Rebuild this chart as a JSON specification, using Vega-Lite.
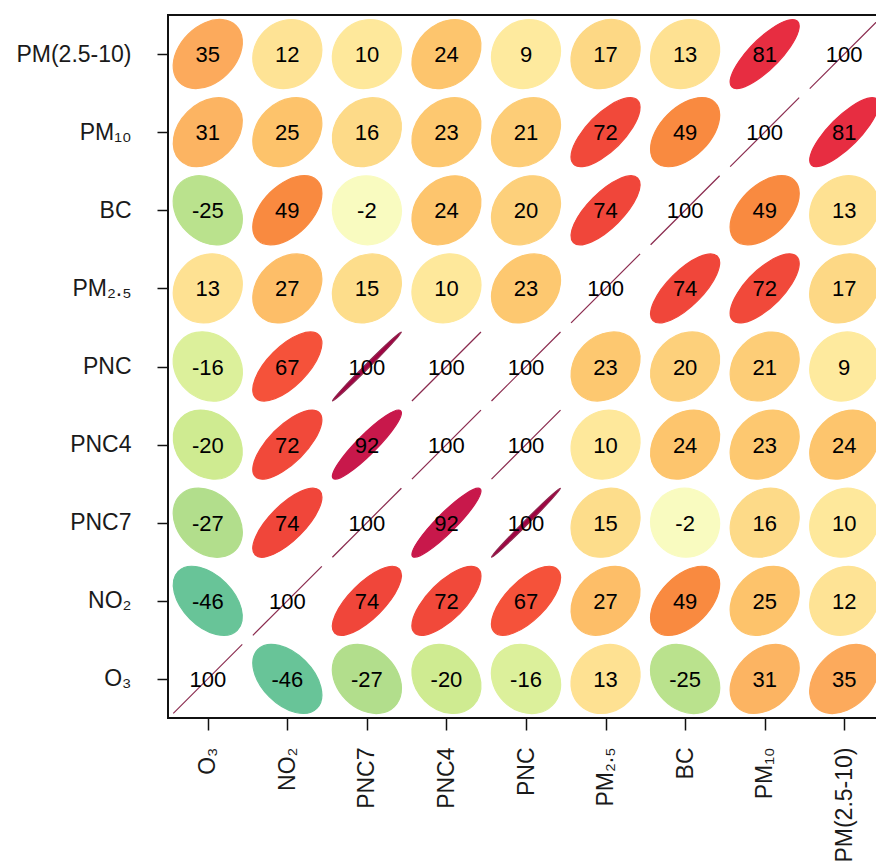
{
  "$schema": "https://vega.github.io/schema/vega-lite/v6.json",
  "autosize": {"type": "none"},
  "width": 716,
  "height": 703,
  "padding": {"left": 168, "top": 15, "right": -8, "bottom": 148},
  "background": "white",
  "config": {
    "view": {"stroke": "#111111", "strokeWidth": 2},
    "locale": {"number": {"decimal": ".", "thousands": ",", "grouping": [3], "currency": ["$", ""], "minus": "-"}},
    "axis": {"labelFont": "Liberation Sans", "labelFontSize": 23, "labelColor": "#1a1a1a", "tickColor": "#111111", "tickWidth": 1.5, "domain": false, "grid": false, "title": null}
  },
  "data": {"values": [
    {"row": "PM(2.5-10)", "col": "O₃", "r": 35}, {"row": "PM(2.5-10)", "col": "NO₂", "r": 12}, {"row": "PM(2.5-10)", "col": "PNC7", "r": 10}, {"row": "PM(2.5-10)", "col": "PNC4", "r": 24}, {"row": "PM(2.5-10)", "col": "PNC", "r": 9}, {"row": "PM(2.5-10)", "col": "PM₂.₅", "r": 17}, {"row": "PM(2.5-10)", "col": "BC", "r": 13}, {"row": "PM(2.5-10)", "col": "PM₁₀", "r": 81}, {"row": "PM(2.5-10)", "col": "PM(2.5-10)", "r": 100},
    {"row": "PM₁₀", "col": "O₃", "r": 31}, {"row": "PM₁₀", "col": "NO₂", "r": 25}, {"row": "PM₁₀", "col": "PNC7", "r": 16}, {"row": "PM₁₀", "col": "PNC4", "r": 23}, {"row": "PM₁₀", "col": "PNC", "r": 21}, {"row": "PM₁₀", "col": "PM₂.₅", "r": 72}, {"row": "PM₁₀", "col": "BC", "r": 49}, {"row": "PM₁₀", "col": "PM₁₀", "r": 100}, {"row": "PM₁₀", "col": "PM(2.5-10)", "r": 81},
    {"row": "BC", "col": "O₃", "r": -25}, {"row": "BC", "col": "NO₂", "r": 49}, {"row": "BC", "col": "PNC7", "r": -2}, {"row": "BC", "col": "PNC4", "r": 24}, {"row": "BC", "col": "PNC", "r": 20}, {"row": "BC", "col": "PM₂.₅", "r": 74}, {"row": "BC", "col": "BC", "r": 100}, {"row": "BC", "col": "PM₁₀", "r": 49}, {"row": "BC", "col": "PM(2.5-10)", "r": 13},
    {"row": "PM₂.₅", "col": "O₃", "r": 13}, {"row": "PM₂.₅", "col": "NO₂", "r": 27}, {"row": "PM₂.₅", "col": "PNC7", "r": 15}, {"row": "PM₂.₅", "col": "PNC4", "r": 10}, {"row": "PM₂.₅", "col": "PNC", "r": 23}, {"row": "PM₂.₅", "col": "PM₂.₅", "r": 100}, {"row": "PM₂.₅", "col": "BC", "r": 74}, {"row": "PM₂.₅", "col": "PM₁₀", "r": 72}, {"row": "PM₂.₅", "col": "PM(2.5-10)", "r": 17},
    {"row": "PNC", "col": "O₃", "r": -16}, {"row": "PNC", "col": "NO₂", "r": 67}, {"row": "PNC", "col": "PNC7", "r": 99.6}, {"row": "PNC", "col": "PNC4", "r": 100}, {"row": "PNC", "col": "PNC", "r": 100}, {"row": "PNC", "col": "PM₂.₅", "r": 23}, {"row": "PNC", "col": "BC", "r": 20}, {"row": "PNC", "col": "PM₁₀", "r": 21}, {"row": "PNC", "col": "PM(2.5-10)", "r": 9},
    {"row": "PNC4", "col": "O₃", "r": -20}, {"row": "PNC4", "col": "NO₂", "r": 72}, {"row": "PNC4", "col": "PNC7", "r": 92}, {"row": "PNC4", "col": "PNC4", "r": 100}, {"row": "PNC4", "col": "PNC", "r": 100}, {"row": "PNC4", "col": "PM₂.₅", "r": 10}, {"row": "PNC4", "col": "BC", "r": 24}, {"row": "PNC4", "col": "PM₁₀", "r": 23}, {"row": "PNC4", "col": "PM(2.5-10)", "r": 24},
    {"row": "PNC7", "col": "O₃", "r": -27}, {"row": "PNC7", "col": "NO₂", "r": 74}, {"row": "PNC7", "col": "PNC7", "r": 100}, {"row": "PNC7", "col": "PNC4", "r": 92}, {"row": "PNC7", "col": "PNC", "r": 99.6}, {"row": "PNC7", "col": "PM₂.₅", "r": 15}, {"row": "PNC7", "col": "BC", "r": -2}, {"row": "PNC7", "col": "PM₁₀", "r": 16}, {"row": "PNC7", "col": "PM(2.5-10)", "r": 10},
    {"row": "NO₂", "col": "O₃", "r": -46}, {"row": "NO₂", "col": "NO₂", "r": 100}, {"row": "NO₂", "col": "PNC7", "r": 74}, {"row": "NO₂", "col": "PNC4", "r": 72}, {"row": "NO₂", "col": "PNC", "r": 67}, {"row": "NO₂", "col": "PM₂.₅", "r": 27}, {"row": "NO₂", "col": "BC", "r": 49}, {"row": "NO₂", "col": "PM₁₀", "r": 25}, {"row": "NO₂", "col": "PM(2.5-10)", "r": 12},
    {"row": "O₃", "col": "O₃", "r": 100}, {"row": "O₃", "col": "NO₂", "r": -46}, {"row": "O₃", "col": "PNC7", "r": -27}, {"row": "O₃", "col": "PNC4", "r": -20}, {"row": "O₃", "col": "PNC", "r": -16}, {"row": "O₃", "col": "PM₂.₅", "r": 13}, {"row": "O₃", "col": "BC", "r": -25}, {"row": "O₃", "col": "PM₁₀", "r": 31}, {"row": "O₃", "col": "PM(2.5-10)", "r": 35}
  ]},
  "encoding": {
    "x": {"field": "col", "type": "nominal", "sort": ["O₃", "NO₂", "PNC7", "PNC4", "PNC", "PM₂.₅", "BC", "PM₁₀", "PM(2.5-10)"], "scale": {"paddingInner": 0, "paddingOuter": 0}, "axis": {"labelAngle": -90, "tickSize": 12, "labelPadding": 17}},
    "y": {"field": "row", "type": "nominal", "sort": ["PM(2.5-10)", "PM₁₀", "BC", "PM₂.₅", "PNC", "PNC4", "PNC7", "NO₂", "O₃"], "scale": {"paddingInner": 0, "paddingOuter": 0}, "axis": {"tickSize": 11, "labelPadding": 26}}
  },
  "layer": [
    {
      "mark": {"type": "point", "filled": true, "size": 4761, "strokeWidth": 1.2, "opacity": 1},
      "encoding": {
        "shape": {"field": "r", "type": "nominal", "legend": null, "scale": {
          "domain": [-46, -27, -25, -20, -16, -2, 9, 10, 12, 13, 15, 16, 17, 20, 21, 23, 24, 25, 27, 31, 35, 49, 67, 72, 74, 81, 92, 99.6, 100],
          "range": [
            "M0.51962,-0.51962A0.73485,1.2083,-45,1,0,-0.51962,0.51962A0.73485,1.2083,-45,1,0,0.51962,-0.51962Z",
            "M0.60415,-0.60415A0.8544,1.12694,-45,1,0,-0.60415,0.60415A0.8544,1.12694,-45,1,0,0.60415,-0.60415Z",
            "M0.61237,-0.61237A0.86603,1.11803,-45,1,0,-0.61237,0.61237A0.86603,1.11803,-45,1,0,0.61237,-0.61237Z",
            "M0.63246,-0.63246A0.89443,1.09545,-45,1,0,-0.63246,0.63246A0.89443,1.09545,-45,1,0,0.63246,-0.63246Z",
            "M0.64807,-0.64807A0.91652,1.07703,-45,1,0,-0.64807,0.64807A0.91652,1.07703,-45,1,0,0.64807,-0.64807Z",
            "M0.7,-0.7A0.98995,1.00995,-45,1,0,-0.7,0.7A0.98995,1.00995,-45,1,0,0.7,-0.7Z",
            "M0.73824,-0.73824A1.04403,0.95394,-45,1,0,-0.73824,0.73824A1.04403,0.95394,-45,1,0,0.73824,-0.73824Z",
            "M0.74162,-0.74162A1.04881,0.94868,-45,1,0,-0.74162,0.74162A1.04881,0.94868,-45,1,0,0.74162,-0.74162Z",
            "M0.74833,-0.74833A1.0583,0.93808,-45,1,0,-0.74833,0.74833A1.0583,0.93808,-45,1,0,0.74833,-0.74833Z",
            "M0.75166,-0.75166A1.06301,0.93274,-45,1,0,-0.75166,0.75166A1.06301,0.93274,-45,1,0,0.75166,-0.75166Z",
            "M0.75829,-0.75829A1.07238,0.92195,-45,1,0,-0.75829,0.75829A1.07238,0.92195,-45,1,0,0.75829,-0.75829Z",
            "M0.76158,-0.76158A1.07703,0.91652,-45,1,0,-0.76158,0.76158A1.07703,0.91652,-45,1,0,0.76158,-0.76158Z",
            "M0.76485,-0.76485A1.08167,0.91104,-45,1,0,-0.76485,0.76485A1.08167,0.91104,-45,1,0,0.76485,-0.76485Z",
            "M0.7746,-0.7746A1.09545,0.89443,-45,1,0,-0.7746,0.7746A1.09545,0.89443,-45,1,0,0.7746,-0.7746Z",
            "M0.77782,-0.77782A1.1,0.88882,-45,1,0,-0.77782,0.77782A1.1,0.88882,-45,1,0,0.77782,-0.77782Z",
            "M0.78422,-0.78422A1.10905,0.8775,-45,1,0,-0.78422,0.78422A1.10905,0.8775,-45,1,0,0.78422,-0.78422Z",
            "M0.7874,-0.7874A1.11355,0.87178,-45,1,0,-0.7874,0.7874A1.11355,0.87178,-45,1,0,0.7874,-0.7874Z",
            "M0.79057,-0.79057A1.11803,0.86603,-45,1,0,-0.79057,0.79057A1.11803,0.86603,-45,1,0,0.79057,-0.79057Z",
            "M0.79687,-0.79687A1.12694,0.8544,-45,1,0,-0.79687,0.79687A1.12694,0.8544,-45,1,0,0.79687,-0.79687Z",
            "M0.80932,-0.80932A1.14455,0.83066,-45,1,0,-0.80932,0.80932A1.14455,0.83066,-45,1,0,0.80932,-0.80932Z",
            "M0.82158,-0.82158A1.1619,0.80623,-45,1,0,-0.82158,0.82158A1.1619,0.80623,-45,1,0,0.82158,-0.82158Z",
            "M0.86313,-0.86313A1.22066,0.71414,-45,1,0,-0.86313,0.86313A1.22066,0.71414,-45,1,0,0.86313,-0.86313Z",
            "M0.91378,-0.91378A1.29228,0.57446,-45,1,0,-0.91378,0.91378A1.29228,0.57446,-45,1,0,0.91378,-0.91378Z",
            "M0.92736,-0.92736A1.31149,0.52915,-45,1,0,-0.92736,0.92736A1.31149,0.52915,-45,1,0,0.92736,-0.92736Z",
            "M0.93274,-0.93274A1.31909,0.5099,-45,1,0,-0.93274,0.93274A1.31909,0.5099,-45,1,0,0.93274,-0.93274Z",
            "M0.95131,-0.95131A1.34536,0.43589,-45,1,0,-0.95131,0.95131A1.34536,0.43589,-45,1,0,0.95131,-0.95131Z",
            "M0.9798,-0.9798A1.38564,0.28284,-45,1,0,-0.9798,0.9798A1.38564,0.28284,-45,1,0,0.9798,-0.9798Z",
            "M0.999,-0.999A1.4128,0.06325,-45,1,0,-0.999,0.999A1.4128,0.06325,-45,1,0,0.999,-0.999Z",
            "M1,-1L-1,1"
          ]}},
        "fill": {"field": "r", "type": "quantitative", "legend": null, "scale": {
          "type": "linear", "interpolate": "rgb",
          "domain": [-100, -46, -27, -20, -16, -2, 10, 17, 24, 35, 49, 67, 74, 81, 92, 100],
          "range": ["#3288bd", "#68c498", "#b2de8c", "#cfeb91", "#dcf09b", "#f9fbc0", "#fee89b", "#fdd885", "#fdc56d", "#fcaa5c", "#f98a40", "#f5523a", "#f0463a", "#e72d41", "#c8184b", "#9e0142"]}},
        "stroke": {"field": "r", "type": "quantitative", "legend": null, "scale": {
          "type": "linear", "interpolate": "rgb",
          "domain": [-100, -46, -27, -20, -16, -2, 10, 17, 24, 35, 49, 67, 74, 81, 92, 100],
          "range": ["#3288bd", "#68c498", "#b2de8c", "#cfeb91", "#dcf09b", "#f9fbc0", "#fee89b", "#fdd885", "#fdc56d", "#fcaa5c", "#f98a40", "#f5523a", "#f0463a", "#e72d41", "#c8184b", "#8a2a4e"]}}
      }
    },
    {
      "mark": {"type": "text", "font": "Liberation Sans", "fontSize": 22, "color": "#000000", "dy": 1},
      "encoding": {"text": {"field": "r", "type": "quantitative", "format": ".0f"}}
    }
  ]
}
